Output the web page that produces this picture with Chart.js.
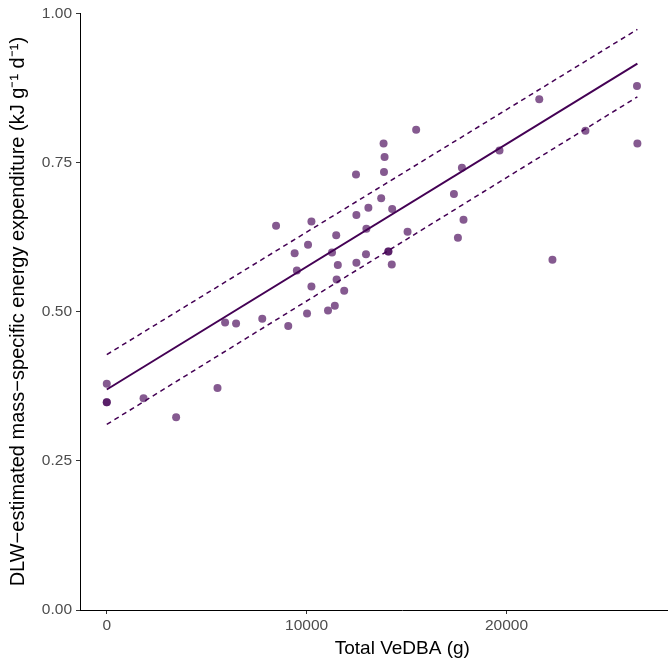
<!DOCTYPE html>
<html>
<head>
<meta charset="utf-8">
<script src="https://cdn.jsdelivr.net/npm/chart.js@4.4.1/dist/chart.umd.min.js"></script>
<style>
  html, body { margin: 0; padding: 0; background: #fff; overflow: hidden; }
  #marco { width: 730px; height: 663px; }
</style>
</head>
<body>
<div id="marco"><canvas id="grafico" width="730" height="663"></canvas></div>
<script>
// Total VeDBA (g) and DLW energy expenditure (kJ g-1 d-1)
const vedba = [
    0, 0, 0, 1840, 3470, 5540, 5920, 6470, 7780, 8470,
    9080, 9400, 9510, 10020, 10070, 10240, 10240, 11070, 11270, 11410,
    11480, 11500, 11560, 11880, 12470, 12490, 12490, 12970, 12990, 13090,
    13730, 13850, 13870, 13900, 14090, 14090, 14260, 14280, 15050, 15480,
    17370, 17570, 17770, 17850, 19650, 21640, 22300, 23950, 26530, 26550
];
const gasto = [
    0.379, 0.348, 0.348, 0.355, 0.323, 0.372, 0.482, 0.480, 0.488, 0.644,
    0.476, 0.598, 0.569, 0.497, 0.612, 0.651, 0.542, 0.502, 0.599, 0.510,
    0.628, 0.554, 0.578, 0.535, 0.730, 0.662, 0.582, 0.596, 0.639, 0.674,
    0.690, 0.782, 0.734, 0.759, 0.601, 0.601, 0.579, 0.672, 0.634, 0.805,
    0.697, 0.624, 0.741, 0.654, 0.770, 0.856, 0.587, 0.803, 0.878, 0.782
];

// fitted line and its band (ends only, straight lines)
const ajusteX = [0, 26550];
const ajusteY = [0.3695, 0.9155];
const superiorY = [0.428, 0.973];
const inferiorY = [0.311, 0.860];

const ticksX = [0, 10000, 20000, 30000];
const ticksY = [0, 0.25, 0.5, 0.75, 1];

const morado = '#440154';
const puntos = vedba.map((v, i) => ({ x: v, y: gasto[i] }));
const aPares = ys => ajusteX.map((v, i) => ({ x: v, y: ys[i] }));

Chart.defaults.font.family = '"Liberation Sans", Arial, sans-serif';

new Chart(document.getElementById('grafico'), {
    type: 'scatter',
    data: {
        datasets: [
            {
                label: 'Ajuste',
                data: aPares(ajusteY),
                showLine: true,
                borderColor: morado,
                borderWidth: 2,
                pointRadius: 0,
                order: 1
            },
            {
                label: 'Superior',
                data: aPares(superiorY),
                showLine: true,
                borderColor: morado,
                borderWidth: 1.5,
                borderDash: [5, 4],
                pointRadius: 0,
                order: 2
            },
            {
                label: 'Inferior',
                data: aPares(inferiorY),
                showLine: true,
                borderColor: morado,
                borderWidth: 1.5,
                borderDash: [5, 4],
                pointRadius: 0,
                order: 3
            },
            {
                label: 'Datos',
                data: puntos,
                backgroundColor: 'rgba(68, 1, 84, 0.65)',
                borderWidth: 0,
                pointRadius: 4,
                order: 4
            }
        ]
    },
    options: {
        responsive: false,
        animation: false,
        layout: { padding: { top: 10, right: 0, left: 0, bottom: 0 } },
        plugins: {
            legend: { display: false },
            tooltip: { enabled: false }
        },
        scales: {
            x: {
                type: 'linear',
                min: -1340,
                max: 30918,
                afterBuildTicks: escala => { escala.ticks = ticksX.map(v => ({ value: v })); },
                afterFit: escala => { escala.height = 53; },
                grid: { display: true, drawOnChartArea: false, drawTicks: true, tickLength: 4, color: '#333333' },
                border: { display: true, color: '#000000', width: 1 },
                ticks: {
                    color: '#4d4d4d',
                    font: { size: 15.5 },
                    padding: 2,
                    maxRotation: 0,
                    callback: v => String(v)
                },
                title: {
                    display: true,
                    text: 'Total VeDBA (g)',
                    color: '#000000',
                    font: { size: 19 },
                    padding: { top: 0, bottom: 3 }
                }
            },
            y: {
                type: 'linear',
                min: 0,
                max: 1,
                afterBuildTicks: escala => { escala.ticks = ticksY.map(v => ({ value: v })); },
                afterFit: escala => { escala.width = 80; },
                grid: { display: true, drawOnChartArea: false, drawTicks: true, tickLength: 4, color: '#333333' },
                border: { display: true, color: '#000000', width: 1 },
                ticks: {
                    color: '#4d4d4d',
                    font: { size: 15.5 },
                    padding: 4,
                    callback: v => v.toFixed(2)
                },
                title: {
                    display: true,
                    text: 'DLW\u2212estimated mass\u2212specific energy expenditure (kJ g\u207B\u00B9 d\u207B\u00B9)',
                    color: '#000000',
                    font: { size: 20 },
                    padding: { top: 6, bottom: 0 }
                }
            }
        }
    }
});
</script>
</body>
</html>
